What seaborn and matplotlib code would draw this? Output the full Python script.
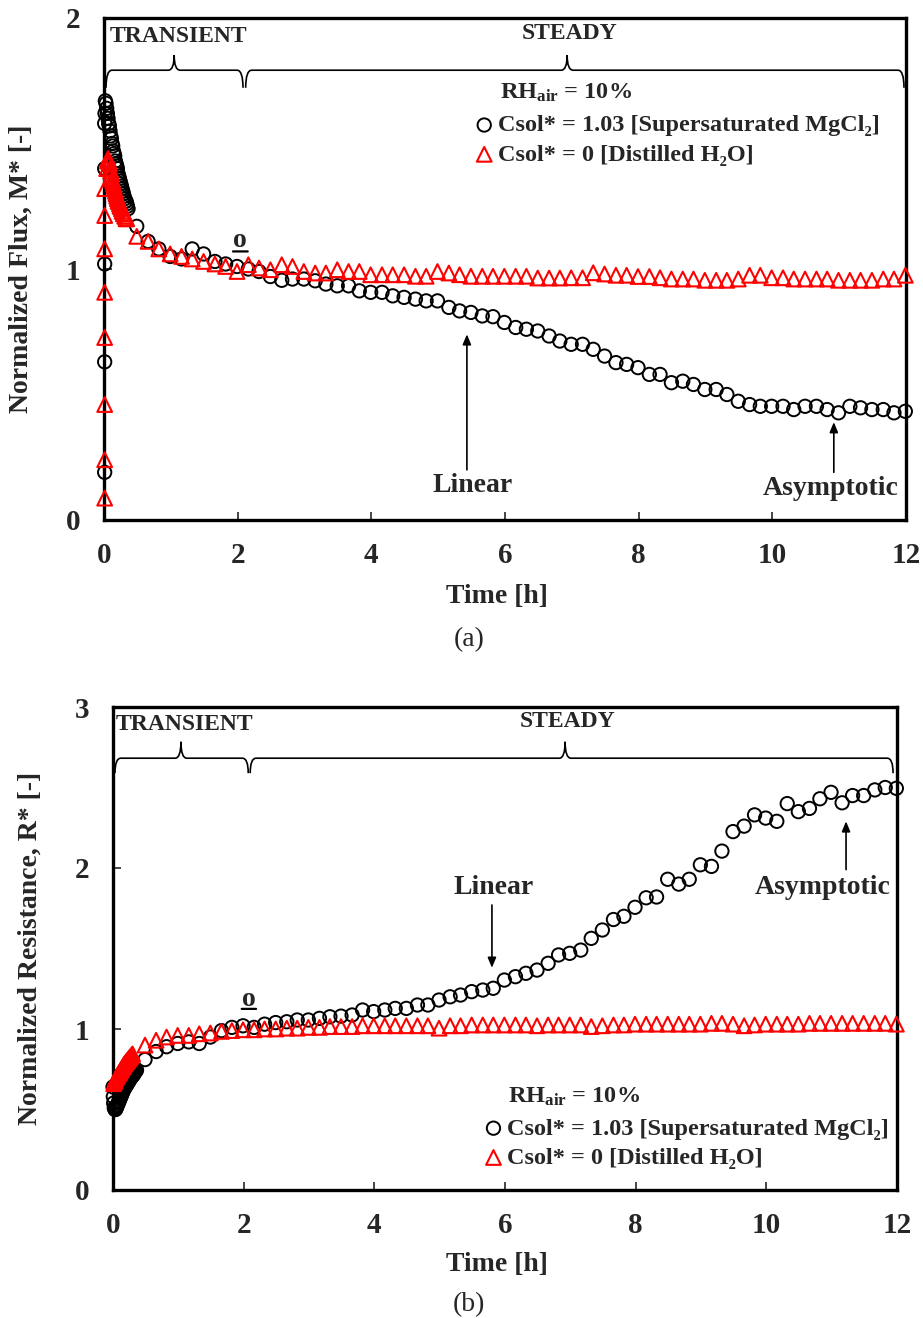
import matplotlib
matplotlib.use('Agg')
import matplotlib.pyplot as plt
import seaborn as sns
from matplotlib.path import Path
from matplotlib.patches import PathPatch
from matplotlib.transforms import blended_transform_factory

sns.set_style('white')
plt.rcParams['font.family'] = ['Liberation Serif', 'DejaVu Sans']
plt.rcParams['font.weight'] = 'bold'
plt.rcParams['mathtext.fontset'] = 'custom'
plt.rcParams['mathtext.rm'] = 'Liberation Serif:bold'
plt.rcParams['mathtext.it'] = 'Liberation Serif:bold'
plt.rcParams['mathtext.bf'] = 'Liberation Serif:bold'

# ---------------- data ----------------
# 10-minute sampling after the initial dense records [h]
hours_10min = [0.49, 0.66, 0.82, 0.99,
               1.16, 1.32, 1.49, 1.66, 1.82, 1.99,
               2.16, 2.32, 2.49, 2.66, 2.82, 2.99,
               3.16, 3.32, 3.49, 3.66, 3.82, 3.99,
               4.16, 4.32, 4.49, 4.66, 4.82, 4.99,
               5.16, 5.32, 5.49, 5.66, 5.82, 5.99,
               6.16, 6.32, 6.49, 6.66, 6.82, 6.99,
               7.16, 7.32, 7.49, 7.66, 7.82, 7.99,
               8.16, 8.32, 8.49, 8.66, 8.82, 8.99,
               9.16, 9.32, 9.49, 9.66, 9.82, 9.99,
               10.16, 10.32, 10.49, 10.66, 10.82, 10.99,
               11.16, 11.32, 11.49, 11.66, 11.82, 11.99]

# (a) normalized flux, MgCl2 (circles)
flux_salt_early_t = [0.01, 0.01, 0.01, 0.01, 0.01, 0.015,
                     0.02, 0.03, 0.04, 0.05, 0.06, 0.07, 0.08, 0.09, 0.10, 0.11,
                     0.12, 0.13, 0.14, 0.15, 0.16, 0.17, 0.18, 0.19, 0.20, 0.21,
                     0.22, 0.23, 0.24, 0.25, 0.26, 0.27, 0.28, 0.29, 0.30, 0.31,
                     0.32, 0.33, 0.34, 0.35, 0.36]
flux_salt_early = [0.19, 0.63, 1.02, 1.40, 1.58, 1.62,
                   1.67, 1.66, 1.64, 1.62, 1.60, 1.58, 1.57, 1.55, 1.53, 1.52,
                   1.50, 1.49, 1.47, 1.46, 1.45, 1.43, 1.42, 1.41, 1.40, 1.38,
                   1.37, 1.36, 1.35, 1.34, 1.33, 1.32, 1.31, 1.30, 1.29, 1.28,
                   1.27, 1.27, 1.26, 1.25, 1.24]
flux_salt_10 = [1.17, 1.11, 1.08, 1.05,
                1.04, 1.08, 1.06, 1.03, 1.02, 1.01,
                1.00, 0.99, 0.97, 0.955, 0.96, 0.96,
                0.953, 0.94, 0.933, 0.933, 0.913, 0.907,
                0.907, 0.893, 0.887, 0.88, 0.873, 0.873,
                0.847, 0.833, 0.827, 0.813, 0.81, 0.787,
                0.767, 0.76, 0.753, 0.733, 0.713, 0.70,
                0.70, 0.68, 0.653, 0.627, 0.62, 0.607,
                0.58, 0.58, 0.547, 0.553, 0.54, 0.52,
                0.52, 0.50, 0.473, 0.46, 0.453, 0.453,
                0.453, 0.44, 0.453, 0.453, 0.44, 0.427,
                0.453, 0.447, 0.44, 0.44, 0.427, 0.433]

# (a) normalized flux, distilled water (triangles)
flux_water_early_t = [0.01, 0.01, 0.01, 0.01, 0.01, 0.01, 0.01, 0.01,
                      0.04, 0.05, 0.06, 0.07, 0.08, 0.09, 0.10, 0.11, 0.12, 0.13,
                      0.14, 0.15, 0.16, 0.17, 0.18, 0.19, 0.20, 0.21, 0.22, 0.23,
                      0.24, 0.25, 0.26, 0.27, 0.28, 0.29, 0.30, 0.31, 0.32, 0.33, 0.34]
flux_water_early = [0.087, 0.24, 0.46, 0.727, 0.907, 1.08, 1.213, 1.32,
                    1.40, 1.43, 1.44, 1.43, 1.42, 1.40, 1.39, 1.38, 1.36, 1.35,
                    1.34, 1.33, 1.32, 1.31, 1.30, 1.29, 1.28, 1.27, 1.27, 1.26,
                    1.25, 1.25, 1.24, 1.23, 1.23, 1.22, 1.22, 1.21, 1.21, 1.20, 1.20]
flux_water_10 = [1.13, 1.11, 1.08, 1.06,
                 1.05, 1.04, 1.03, 1.02, 1.01, 0.99,
                 1.017, 1.004, 0.997, 1.017, 1.01, 0.99,
                 0.984, 0.984, 0.997, 0.99, 0.99, 0.977,
                 0.977, 0.977, 0.977, 0.971, 0.971, 0.99,
                 0.984, 0.977, 0.971, 0.971, 0.971, 0.971,
                 0.971, 0.971, 0.964, 0.964, 0.964, 0.965,
                 0.965, 0.985, 0.98, 0.975, 0.975, 0.97,
                 0.97, 0.965, 0.96, 0.96, 0.96, 0.955,
                 0.955, 0.955, 0.96, 0.975, 0.975, 0.965,
                 0.965, 0.96, 0.96, 0.96, 0.96, 0.955,
                 0.955, 0.955, 0.955, 0.96, 0.96, 0.975]

# (b) normalized resistance, MgCl2 (circles)
res_salt_early_t = [0.00, 0.005, 0.01, 0.02,
                    0.03, 0.04, 0.05, 0.06, 0.07, 0.08, 0.09, 0.10, 0.11, 0.12,
                    0.13, 0.14, 0.15, 0.16, 0.17, 0.18, 0.19, 0.20, 0.21, 0.22,
                    0.23, 0.24, 0.25, 0.26, 0.27, 0.28, 0.29, 0.30, 0.31, 0.32,
                    0.33, 0.34, 0.35, 0.36]
res_salt_early = [0.64, 0.58, 0.54, 0.51,
                  0.50, 0.50, 0.51, 0.52, 0.53, 0.54, 0.55, 0.56, 0.57, 0.58,
                  0.59, 0.60, 0.61, 0.62, 0.63, 0.635, 0.64, 0.65, 0.655, 0.66,
                  0.67, 0.675, 0.68, 0.69, 0.695, 0.70, 0.705, 0.71, 0.715, 0.72,
                  0.73, 0.735, 0.74, 0.745]
res_salt_10 = [0.81, 0.86, 0.89, 0.91,
               0.92, 0.91, 0.95, 0.99, 1.01, 1.02,
               1.01, 1.03, 1.04, 1.045, 1.056, 1.056,
               1.066, 1.076, 1.08, 1.087, 1.118, 1.108,
               1.118, 1.128, 1.128, 1.149, 1.149, 1.18,
               1.20, 1.211, 1.232, 1.242, 1.253, 1.304,
               1.325, 1.346, 1.366, 1.408, 1.46, 1.47,
               1.49, 1.563, 1.615, 1.68, 1.70, 1.756,
               1.815, 1.82, 1.93, 1.90, 1.93, 2.02,
               2.01, 2.105, 2.226, 2.26, 2.33, 2.31,
               2.29, 2.40, 2.35, 2.37, 2.43, 2.47,
               2.405, 2.45, 2.45, 2.485, 2.50, 2.495]

# (b) normalized resistance, distilled water (triangles)
res_water_early_t = [0.01, 0.02, 0.03, 0.04, 0.05, 0.06, 0.07, 0.08, 0.09, 0.10,
                     0.11, 0.12, 0.13, 0.14, 0.15, 0.16, 0.17, 0.18, 0.19, 0.20,
                     0.21, 0.22, 0.23, 0.24, 0.25, 0.26, 0.27, 0.28, 0.29, 0.30]
res_water_early = [0.66, 0.67, 0.68, 0.69, 0.70, 0.705, 0.71, 0.72, 0.725, 0.73,
                   0.74, 0.745, 0.75, 0.76, 0.765, 0.77, 0.78, 0.785, 0.79, 0.795,
                   0.80, 0.805, 0.81, 0.815, 0.82, 0.825, 0.83, 0.835, 0.84, 0.845]
res_water_10 = [0.90, 0.93, 0.95, 0.96,
                0.96, 0.97, 0.975, 0.985, 0.99, 0.995,
                0.995, 1.0, 1.0, 1.005, 1.005, 1.01,
                1.01, 1.015, 1.015, 1.015, 1.02, 1.02,
                1.02, 1.02, 1.02, 1.02, 1.02, 1.005,
                1.02, 1.02, 1.025, 1.025, 1.025, 1.025,
                1.025, 1.025, 1.02, 1.025, 1.025, 1.025,
                1.025, 1.015, 1.02, 1.025, 1.025, 1.03,
                1.03, 1.03, 1.03, 1.03, 1.03, 1.03,
                1.035, 1.035, 1.03, 1.02, 1.025, 1.03,
                1.03, 1.03, 1.03, 1.035, 1.035, 1.035,
                1.035, 1.035, 1.035, 1.035, 1.035, 1.03]

x_ticks = [0, 2, 4, 6, 8, 10, 12]
label_salt = 'Csol* = 1.03 [Supersaturated MgCl\u2082]'
label_water = 'Csol* = 0 [Distilled H\u2082O]'
label_rh = r'RH$_{\mathrm{air}}$ = 10%'

# ---------------- figure ----------------
fig = plt.figure(figsize=(9.23, 13.18), dpi=100)
W, H = 923, 1318
ax1 = fig.add_axes([104 / W, 1 - 520 / H, 802 / W, 502 / H])
ax2 = fig.add_axes([113 / W, 1 - 1190 / H, 784 / W, 483 / H])


def draw(ax, ts, vs, tw, vw):
    sns.scatterplot(x=ts, y=vs, ax=ax, marker='o', s=92, facecolor='none',
                    edgecolor='black', linewidth=1.4, zorder=3, clip_on=False,
                    label=label_salt)
    sns.scatterplot(x=tw, y=vw, ax=ax, marker='^', s=112, facecolor='none',
                    edgecolor='#ff0000', linewidth=1.5, zorder=4, clip_on=False,
                    label=label_water)


draw(ax1, flux_salt_early_t + hours_10min, flux_salt_early + flux_salt_10,
     flux_water_early_t + hours_10min, flux_water_early + flux_water_10)
draw(ax2, res_salt_early_t + hours_10min, res_salt_early + res_salt_10,
     res_water_early_t + hours_10min, res_water_early + res_water_10)


def brace(ax, x0, x1, xm, yl, yb, yt, dx):
    tr = blended_transform_factory(ax.transData, ax.transAxes)
    verts = [(x0, yb), (x0, yl), (x0 + dx, yl),
             (xm - dx, yl), (xm, yl), (xm, yt),
             (xm, yl), (xm + dx, yl),
             (x1 - dx, yl), (x1, yl), (x1, yb)]
    codes = [Path.MOVETO, Path.CURVE3, Path.CURVE3,
             Path.LINETO, Path.CURVE3, Path.CURVE3,
             Path.CURVE3, Path.CURVE3,
             Path.LINETO, Path.CURVE3, Path.CURVE3]
    ax.add_patch(PathPatch(Path(verts, codes), fill=False, lw=1.2,
                           edgecolor='black', transform=tr, clip_on=False))


def style(ax, ymax, ylabel, ylab_x):
    ax.set_xlim(0, 12)
    ax.set_ylim(0, ymax)
    ax.set_xticks(x_ticks)
    ax.set_yticks(list(range(ymax + 1)))
    ax.tick_params(direction='in', length=6, width=1.2, labelsize=21,
                   bottom=True, left=True, top=False, right=False)
    ax.tick_params(axis='x', pad=16)
    ax.tick_params(axis='y', pad=17)
    for lab in ax.get_xticklabels() + ax.get_yticklabels():
        lab.set_fontweight('bold')
    for sp in ax.spines.values():
        sp.set_linewidth(2.4)
        sp.set_color('black')
        sp.set_visible(True)
    ax.set_xlabel('Time [h]', fontsize=20, fontweight='bold')
    ax.set_ylabel(ylabel, fontsize=20, fontweight='bold')
    ax.xaxis.set_label_coords(0.49, -0.128)
    ax.yaxis.set_label_coords(ylab_x, 0.5)


style(ax1, 2, 'Normalized Flux, M* [-]', -0.088)
style(ax2, 3, 'Normalized Resistance, R* [-]', -0.09)

# braces and regime labels
brace(ax1, 0.03, 2.08, 1.05, 0.896, 0.861, 0.926, 0.09)
brace(ax1, 2.12, 11.97, 6.93, 0.896, 0.861, 0.926, 0.09)
ax1.text(1.11, 0.964, 'TRANSIENT', transform=blended_transform_factory(ax1.transData, ax1.transAxes),
         ha='center', va='center', fontsize=17, fontweight='bold')
ax1.text(6.96, 0.970, 'STEADY', transform=blended_transform_factory(ax1.transData, ax1.transAxes),
         ha='center', va='center', fontsize=17, fontweight='bold')
brace(ax2, 0.03, 2.07, 1.04, 0.894, 0.863, 0.928, 0.09)
brace(ax2, 2.10, 11.94, 6.92, 0.894, 0.863, 0.928, 0.09)
ax2.text(1.10, 0.963, 'TRANSIENT', transform=blended_transform_factory(ax2.transData, ax2.transAxes),
         ha='center', va='center', fontsize=17, fontweight='bold')
ax2.text(6.95, 0.971, 'STEADY', transform=blended_transform_factory(ax2.transData, ax2.transAxes),
         ha='center', va='center', fontsize=17, fontweight='bold')

# legends
for ax, rx, ry, lx, ly in [(ax1, 0.576, 0.851, 0.465, 0.808), (ax2, 0.588, 0.193, 0.476, 0.150)]:
    ax.text(rx, ry, label_rh, transform=ax.transAxes, ha='center', va='center',
            fontsize=17.5, fontweight='bold')
    ax.legend(loc='upper left', bbox_to_anchor=(lx, ly), frameon=False,
              prop={'size': 17.5, 'weight': 'bold'}, handlelength=0.6,
              handletextpad=0.25, borderpad=0, borderaxespad=0,
              labelspacing=0.3, markerscale=1.0)

# annotations
arrow = dict(arrowstyle='-|>,head_length=0.6,head_width=0.25', lw=1.2, color='black',
             shrinkA=0, shrinkB=0)
ax1.annotate('', xy=(5.43, 0.74), xytext=(5.43, 0.20), arrowprops=arrow)
ax1.text(5.51, 0.136, 'Linear', ha='center', va='center', fontsize=20, fontweight='bold')
ax1.annotate('', xy=(10.92, 0.39), xytext=(10.92, 0.19), arrowprops=arrow)
ax1.text(10.88, 0.124, 'Asymptotic', ha='center', va='center', fontsize=20, fontweight='bold')
ax2.annotate('', xy=(5.80, 1.38), xytext=(5.80, 1.77), arrowprops=arrow)
ax2.text(5.83, 1.876, 'Linear', ha='center', va='center', fontsize=20, fontweight='bold')
ax2.annotate('', xy=(11.22, 2.29), xytext=(11.22, 1.99), arrowprops=arrow)
ax2.text(10.87, 1.88, 'Asymptotic', ha='center', va='center', fontsize=20, fontweight='bold')

# underlined "o" markers near the transient/steady boundary
line = dict(arrowstyle='-', lw=1.6, color='black', shrinkA=0, shrinkB=0)
ax1.text(2.04, 1.115, 'o', ha='center', va='center', fontsize=20, fontweight='bold')
ax1.annotate('', xy=(1.93, 1.07), xytext=(2.15, 1.07), arrowprops=line)
ax2.text(2.08, 1.185, 'o', ha='center', va='center', fontsize=20, fontweight='bold')
ax2.annotate('', xy=(1.97, 1.125), xytext=(2.19, 1.125), arrowprops=line)

fig.text(469 / W, 1 - 640 / H, '(a)', ha='center', va='center', fontsize=20, fontweight='normal')
fig.text(469 / W, 1 - 1305 / H, '(b)', ha='center', va='center', fontsize=20, fontweight='normal')

fig.savefig('out.png', dpi=100)
